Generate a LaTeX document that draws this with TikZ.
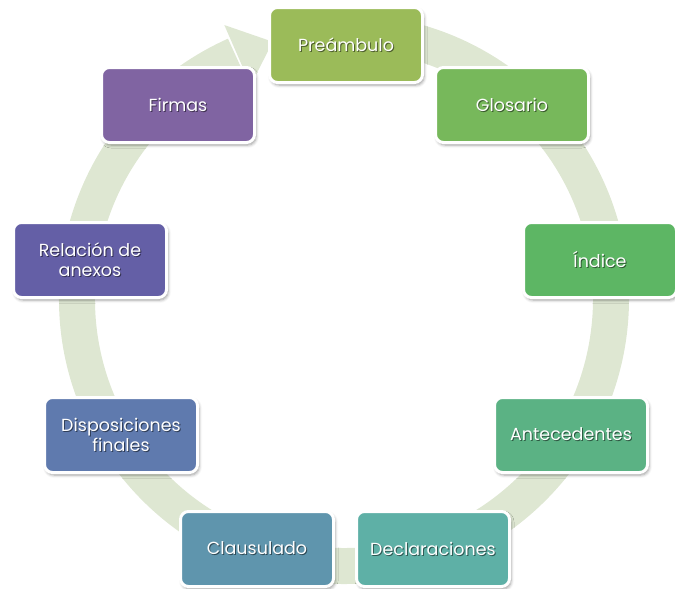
\documentclass[tikz,border=0pt]{standalone}
\usepackage{fontspec}
\setmainfont{Poppins}
\usetikzlibrary{shadows.blur}
\definecolor{ringc}{HTML}{DEE7D2}
\definecolor{cA}{HTML}{9BBB59}
\definecolor{cB}{HTML}{77B85B}
\definecolor{cC}{HTML}{5DB664}
\definecolor{cD}{HTML}{5BB284}
\definecolor{cE}{HTML}{5EB0A6}
\definecolor{cF}{HTML}{5F95AD}
\definecolor{cG}{HTML}{5F7AAE}
\definecolor{cH}{HTML}{645FA6}
\definecolor{cI}{HTML}{8064A2}
\newcommand\shtxt[1]{\makebox[0pt][l]{\raisebox{-1pt}{\hspace{1pt}\textcolor{shc}{#1}}}#1}
\tikzset{
  stagebox/.style={rounded corners=8pt, minimum width=153pt, minimum height=75pt,
    draw=white, line width=3pt, fill=#1, text=white, align=center, inner sep=2pt,
    font=\fontsize{17.5}{20}\selectfont,
    execute at begin node={\colorlet{shc}{#1!50!black}},
    blur shadow={shadow xshift=1.5pt, shadow yshift=-2.5pt, shadow blur radius=3pt, shadow opacity=40}},
  ringline/.style={draw=ringc, line width=36pt}
}
\begin{document}
\begin{tikzpicture}[x=1pt,y=1pt]
\useasboundingbox (0,0) rectangle (675,-589);
\coordinate (c) at (344,-299);
% ring
\draw[ringline] ([shift={(85:267)}]c) arc[start angle=85, end angle=-246, radius=267];
\fill[ringc] ([shift={(113.6:233)}]c) -- ([shift={(105.5:267)}]c) -- ([shift={(113.6:299)}]c) -- cycle;
% stages
\node[stagebox=cA] (pre) at (346,-45) {\shtxt{Preámbulo}};
\node[stagebox=cB] (glo) at (512,-105) {\shtxt{Glosario}};
\node[stagebox=cC] (ind) at (600,-260) {\shtxt{Índice}};
\node[stagebox=cD] (ant) at (571,-435) {\shtxt{Antecedentes}};
\node[stagebox=cE] (dec) at (433,-549) {\shtxt{Declaraciones}};
\node[stagebox=cF] (cla) at (257,-549) {\shtxt{Clausulado}};
\node[stagebox=cG] (dis) at (121,-435) {\shtxt{Disposiciones}\\\shtxt{finales}};
\node[stagebox=cH] (rel) at (90,-260) {\shtxt{Relación de}\\\shtxt{anexos}};
\node[stagebox=cI] (fir) at (178,-105) {\shtxt{Firmas}};
\end{tikzpicture}
\end{document}
